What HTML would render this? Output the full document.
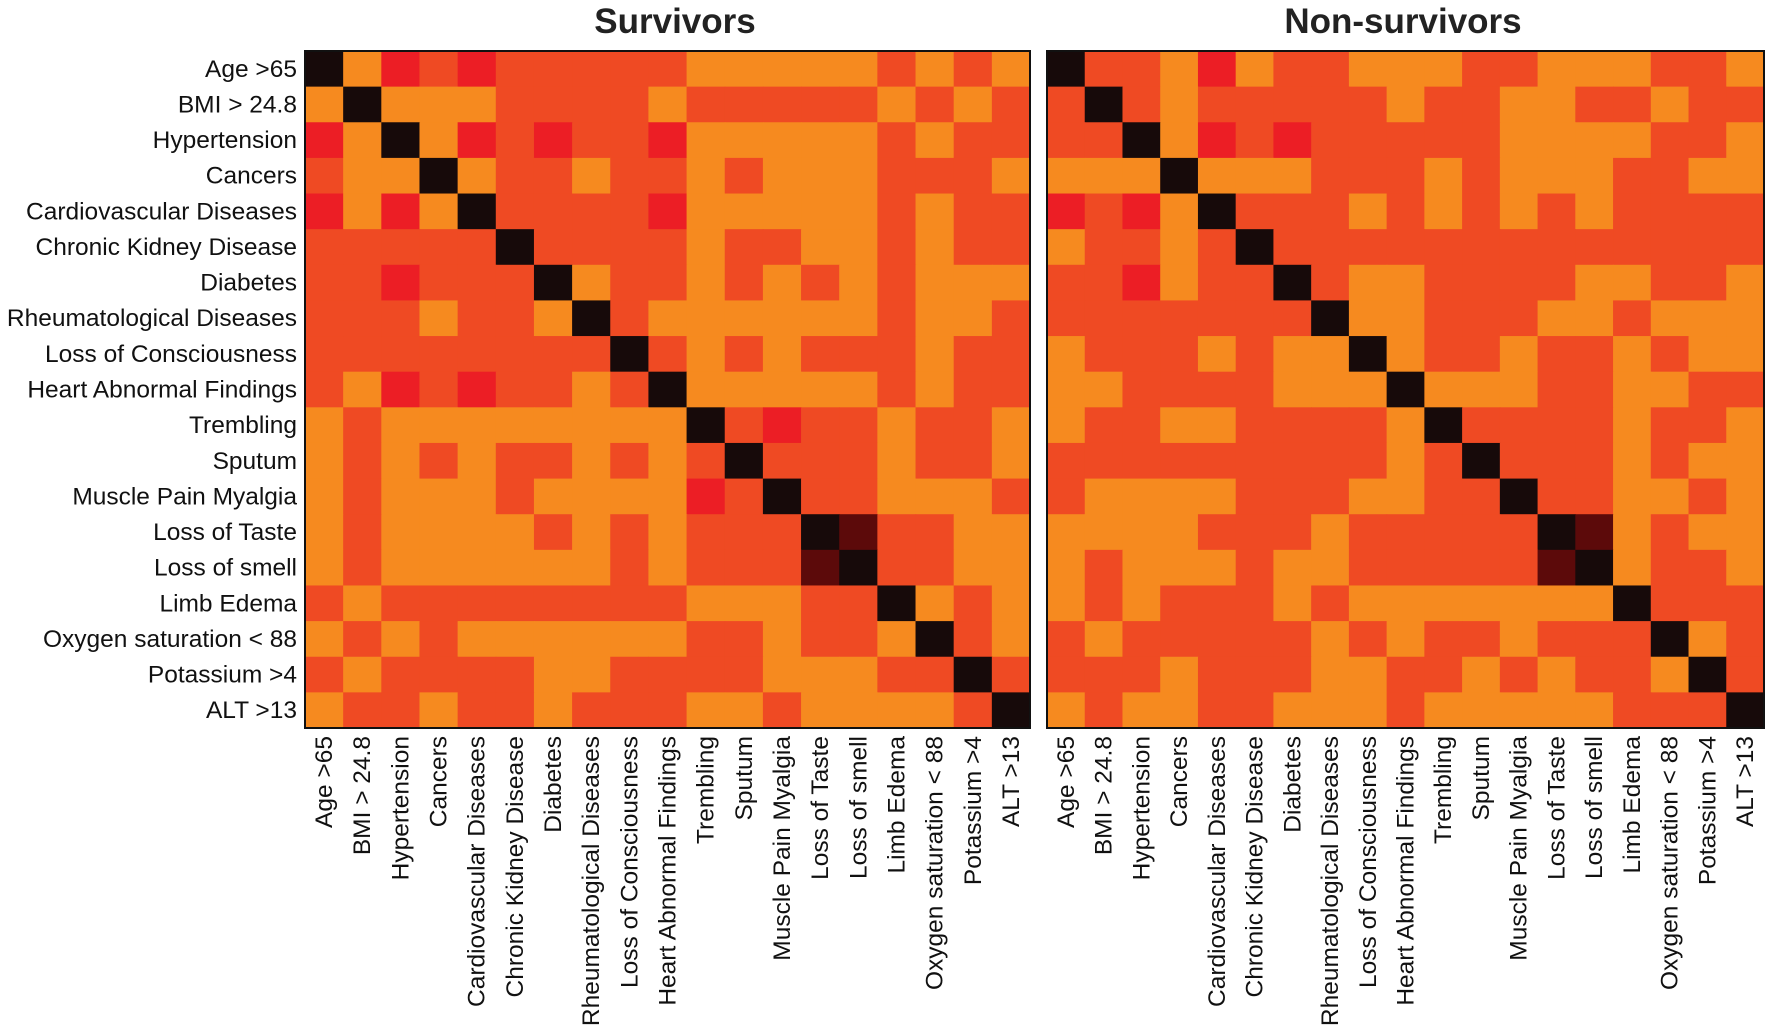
<!DOCTYPE html>
<html><head><meta charset="utf-8"><style>
html,body{margin:0;padding:0;background:#fff;}
svg{display:block;font-family:"Liberation Sans",sans-serif;}
</style></head><body>
<svg id="chart" width="1772" height="1032" viewBox="0 0 1772 1032" xmlns="http://www.w3.org/2000/svg">
<text x="675" y="33" text-anchor="middle" font-size="35" font-weight="bold" fill="#222">Survivors</text>
<text x="1403" y="33" text-anchor="middle" font-size="35" font-weight="bold" fill="#222">Non-survivors</text>
</svg>
<script>
const categories = ["Age >65","BMI > 24.8","Hypertension","Cancers","Cardiovascular Diseases","Chronic Kidney Disease","Diabetes","Rheumatological Diseases","Loss of Consciousness","Heart Abnormal Findings","Trembling","Sputum","Muscle Pain Myalgia","Loss of Taste","Loss of smell","Limb Edema","Oxygen saturation < 88","Potassium >4","ALT >13"];
// levels: O orange, R red-orange, D red, K dark maroon, X black (diagonal)
const survivorsRows = [
"X O D R D R R R R R O O O O O R O R O",
"O X O O O R R R R O R R R R R O R O R",
"D O X O D R D R R D O O O O O R O R R",
"R O O X O R R O R R O R O O O R R R O",
"D O D O X R R R R D O O O O O R O R R",
"R R R R R X R R R R O R R O O R O R R",
"R R D R R R X O R R O R O R O R O O O",
"R R R O R R O X R O O O O O O R O O R",
"R R R R R R R R X R O R O R R R O R R",
"R O D R D R R O R X O O O O O R O R R",
"O R O O O O O O O O X R D R R O R R O",
"O R O R O R R O R O R X R R R O R R O",
"O R O O O R O O O O D R X R R O O O R",
"O R O O O O R O R O R R R X K R R O O",
"O R O O O O O O R O R R R K X R R O O",
"R O R R R R R R R R O O O R R X O R O",
"O R O R O O O O O O R R O R R O X R O",
"R O R R R R O O R R R R O O O R R X R",
"O R R O R R O R R R O O R O O O O R X"
];
const nonSurvivorsRows = [
"X R R O D O R R O O O R R O O O R R O",
"R X R O R R R R R O R R O O R R O R R",
"R R X O D R D R R R R R O O O O R R O",
"O O O X O O O R R R O R O O O R R O O",
"D R D O X R R R O R O R O R O R R R R",
"O R R O R X R R R R R R R R R R R R R",
"R R D O R R X R O O R R R R O O R R O",
"R R R R R R R X O O R R R O O R O O O",
"O R R R O R O O X O R R O R R O R O O",
"O O R R R R O O O X O O O R R O O R R",
"O R R O O R R R R O X R R R R O R R O",
"R R R R R R R R R O R X R R R O R O O",
"R O O O O R R R O O R R X R R O O R O",
"O O O O R R R O R R R R R X K O R O O",
"O R O O O R O O R R R R R K X O R R O",
"O R O R R R O R O O O O O O O X R R R",
"R O R R R R R O R O R R O R R R X O R",
"R R R O R R R O O R R O R O R R O X R",
"O R O O R R O O O R O O O O O R R R X"
];
const levelColors = {O:"#f68a1f",R:"#ef4a23",D:"#ec1e25",K:"#5c0a0a",X:"#170a0a"};

const svg = document.getElementById('chart');
const NS = "http://www.w3.org/2000/svg";
const top0 = 51, bottom0 = 728;
function makeAxis(x0, x1){
  const n = categories.length;
  return {
    x: i => x0 + (x1-x0)*i/n,
    y: i => top0 + (bottom0-top0)*i/n,
    w: (x1-x0)/n, h: (bottom0-top0)/n
  };
}
function drawPanel(rows, x0, x1, name, rowLabels){
  const ax = makeAxis(x0, x1);
  const g = document.createElementNS(NS,'g');
  
  
  svg.appendChild(g);
  rows.forEach((rowStr, r) => {
    const row = rowStr.split(' ');
    for (let c = 0; c < categories.length; c++) {
      const ch = row[c] || 'O';
      const rect = document.createElementNS(NS,'rect');
      rect.setAttribute('x', ax.x(c)); rect.setAttribute('y', ax.y(r));
      rect.setAttribute('width', ax.w+0.6); rect.setAttribute('height', ax.h+0.6);
      rect.setAttribute('fill', levelColors[ch]);
      
      
      g.appendChild(rect);
    }
  });
  const frame = document.createElementNS(NS,'rect');
  frame.setAttribute('x', x0); frame.setAttribute('y', top0);
  frame.setAttribute('width', x1-x0); frame.setAttribute('height', bottom0-top0);
  frame.setAttribute('fill','none'); frame.setAttribute('stroke','#111'); frame.setAttribute('stroke-width','2');
  
  
  svg.appendChild(frame);
  categories.forEach((cat, i) => {
    if (rowLabels) {
      const t = document.createElementNS(NS,'text');
      t.setAttribute('x', x0-8); t.setAttribute('y', ax.y(i)+ax.h/2+8);
      t.setAttribute('text-anchor','end'); t.setAttribute('font-size','24.5'); t.setAttribute('fill','#111');
      t.textContent = cat;
      
      
      svg.appendChild(t);
    }
    const xt = document.createElementNS(NS,'text');
    const cx = ax.x(i)+ax.w/2+8, cy = 736;
    xt.setAttribute('x', cx); xt.setAttribute('y', cy);
    xt.setAttribute('transform', `rotate(-90 ${cx} ${cy})`);
    xt.setAttribute('text-anchor','end'); xt.setAttribute('font-size','24.5'); xt.setAttribute('fill','#111');
    xt.textContent = cat;
    
    
    svg.appendChild(xt);
  });
}
drawPanel(survivorsRows, 305, 1030, 'survivors', true);
drawPanel(nonSurvivorsRows, 1047, 1764, 'non-survivors', false);
</script>
</body></html>
